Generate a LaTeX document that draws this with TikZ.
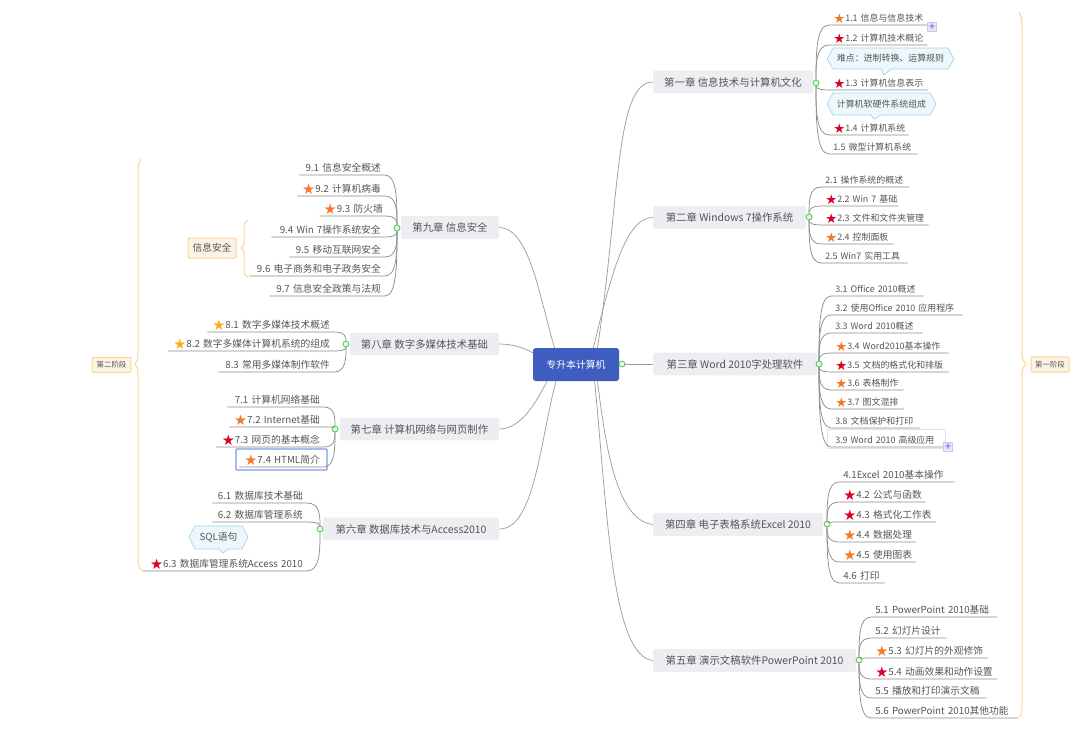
\documentclass[tikz,border=0pt]{standalone}
\usepackage{fontspec}
\setmainfont{Noto Sans CJK SC}
\newfontfamily\symfont[Scale=1.5]{DejaVu Sans}
\usepackage{xcolor}
\usepackage{tikz}
\usetikzlibrary{calc}
\definecolor{mapblue}{RGB}{63,93,190}
\definecolor{mapgray}{RGB}{237,237,242}
\definecolor{maptext}{RGB}{85,85,85}
\definecolor{mapline}{RGB}{140,140,140}
\definecolor{mapred}{RGB}{218,0,40}
\definecolor{maporange}{RGB}{245,120,40}
\definecolor{mapyellow}{RGB}{250,175,25}
\definecolor{mapcream}{RGB}{253,243,228}
\definecolor{mapbrace}{RGB}{249,214,145}
\definecolor{calloutfill}{RGB}{238,247,251}
\definecolor{calloutline}{RGB}{160,212,228}
\definecolor{selblue}{RGB}{125,150,230}
\definecolor{sellight}{RGB}{215,228,245}
\newcommand{\rs}{\raisebox{-.2em}{\color{mapred}\symfont ★}}
\newcommand{\os}{\raisebox{-.2em}{\color{maporange}\symfont ★}}
\newcommand{\ys}{\raisebox{-.2em}{\color{mapyellow}\symfont ★}}
\tikzset{
    chapter/.style={fill=mapgray, rounded corners=1.5pt, text=maptext, font=\fontsize{7.8}{9}\selectfont, minimum height=17pt, inner sep=0pt},
    hub/.style={circle, draw=green!45!gray, fill=green!15, line width=.5pt, minimum size=4.5pt, inner sep=0pt},
    leaf/.style={text=maptext, inner xsep=3pt, inner ysep=1.1pt, text height=.85em, text depth=.15em},
    leafs/.style={leaf, font=\fontsize{6.7}{8}\selectfont, align=left},
    leafm/.style={leaf, font=\fontsize{7.3}{9}\selectfont, align=left},
    leafl/.style={leaf, font=\fontsize{7.3}{9}\selectfont, align=right},
    leafline/.style={draw=mapline, line width=.55pt},
    rootline/.style={draw=mapline!85, line width=.55pt},
    callout/.style={draw=calloutline, fill=calloutfill, line width=.5pt},
    calltext/.style={text=maptext, inner sep=0pt},
    bracket/.style={draw=mapbrace, line width=.75pt},
    stage/.style={draw=mapbrace, fill=mapcream, rounded corners=1pt, text=maptext, line width=.75pt, inner sep=0pt},
    plusbox/.style={draw=gray!40, fill=blue!10, text=blue!70, font=\fontsize{8}{8}\selectfont, minimum size=7pt, inner sep=0pt}
}
\begin{document}
\begin{tikzpicture}[x=0.75pt, y=-0.75pt]
    \useasboundingbox (0,0) rectangle (1080,751);

    % Root and chapters
    \node[fill=mapblue, rounded corners=2pt, text=white, minimum width=64.5pt, minimum height=24.75pt, inner sep=0pt, font=\fontsize{7.4}{9}\selectfont] (root) at (576,364.5) {专升本计算机};
    \node[hub] (hub0) at (622,364) {};
    \node[chapter, minimum width=120pt] (ch1) at (733,82) {第一章 信息技术与计算机文化};
    \node[chapter, minimum width=114.75pt] (ch2) at (729.5,217.5) {第二章 Windows 7操作系统};
    \node[chapter, minimum width=123pt] (ch3) at (735,364) {第三章 Word 2010字处理软件};
    \node[chapter, minimum width=127.5pt] (ch4) at (738,524.5) {第四章 电子表格系统Excel 2010};
    \node[chapter, minimum width=152.25pt] (ch5) at (754.5,660.5) {第五章 演示文稿软件PowerPoint 2010};
    \node[chapter, minimum width=132pt] (ch6) at (411,529) {第六章 数据库技术与Access2010};
    \node[chapter, minimum width=119.25pt] (ch7) at (419.5,429) {第七章 计算机网络与网页制作};
    \node[chapter, minimum width=111.75pt] (ch8) at (424.5,344) {第八章 数字多媒体技术基础};
    \node[chapter, minimum width=73.5pt] (ch9) at (450,227.5) {第九章 信息安全};

    \node[hub] (hub1) at (816,83) {};
    \node[hub] (hub2) at (809,217) {};
    \node[hub] (hub3) at (819,364) {};
    \node[hub] (hub4) at (827,524) {};
    \node[hub] (hub5) at (859,660) {};
    \node[hub] (hub6) at (320,529) {};
    \node[hub] (hub7) at (335,429) {};
    \node[hub] (hub8) at (346,344) {};
    \node[hub] (hub9) at (397,228) {};

    % Root links
    \draw[rootline] (ch1.west) .. controls (615,82) and (620,200) .. (root.38);
    \draw[rootline] (ch2.west) .. controls (625,217) and (610,280) .. (root.44);
    \draw[rootline] (hub0) -- (ch3.west);
    \draw[rootline] (ch4.west) .. controls (615,520) and (605,440) .. (root.-38);
    \draw[rootline] (ch5.west) .. controls (612,655) and (608,520) .. (root.-42);
    \draw[rootline] (ch6.east) .. controls (535,529) and (540,440) .. (root.220);
    \draw[rootline] (ch7.east) .. controls (520,429) and (535,405) .. (root.210);
    \draw[rootline] (ch8.east) .. controls (512,344) and (525,348) .. (root.165);
    \draw[rootline] (ch9.east) .. controls (530,228) and (540,300) .. (root.142);

    % Highlighted leaves
    \draw[draw=sellight, line width=.6pt] (827,429) rectangle (945,448);
    \draw[draw=selblue, line width=.8pt, rounded corners=.5pt] (236,449) rectangle (327,470);

    % Chapter 1
    \foreach \lbl/\yp/\xe/\txt in {11/25/927/\os 1.1 信息与信息技术, 12/45/927/\rs 1.2 计算机技术概论, 13/90/927/\rs 1.3 计算机信息表示, 14/135/908/\rs 1.4 计算机系统, 15/154/917/1.5 微型计算机系统} {
        \pgfmathsetmacro\lw{(\xe-829)*0.75-6}
        \node[leafs, anchor=south west, text width=\lw pt] (l\lbl) at (829,\yp) {\mbox{\txt}};
        \draw[leafline] (hub1) .. controls ($(hub1)!.5!(hub1 |- l\lbl.south west)$) and (hub1 |- l\lbl.south west) .. (l\lbl.south west) -- (l\lbl.south east);
    }
    % Chapter 2
    \foreach \lbl/\yp/\xe/\txt in {21/187/909/2.1 操作系统的概述, 22/206/898/\rs 2.2 Win 7 基础, 23/225/928/\rs 2.3 文件和文件夹管理, 24/244/893/\os 2.4 控制面板, 25/263/907/2.5 Win7 实用工具} {
        \pgfmathsetmacro\lw{(\xe-821)*0.75-6}
        \node[leafs, anchor=south west, text width=\lw pt] (l\lbl) at (821,\yp) {\mbox{\txt}};
        \draw[leafline] (hub2) .. controls ($(hub2)!.5!(hub2 |- l\lbl.south west)$) and (hub2 |- l\lbl.south west) .. (l\lbl.south west) -- (l\lbl.south east);
    }
    % Chapter 3
    \foreach \lbl/\yp/\xe/\txt in {31/296/923/3.1 Office 2010概述, 32/315/962/3.2 使用Office 2010 应用程序, 33/333/922/3.3 Word 2010概述, 34/353/948/\os 3.4 Word2010基本操作, 35/372/948/\rs 3.5 文档的格式化和排版, 36/390/903/\os 3.6 表格制作, 37/409/903/\os 3.7 图文混排, 38/428/919/3.8 文档保护和打印, 39/447/945/3.9 Word 2010 高级应用} {
        \pgfmathsetmacro\lw{(\xe-831)*0.75-6}
        \node[leafs, anchor=south west, text width=\lw pt] (l\lbl) at (831,\yp) {\mbox{\txt}};
        \draw[leafline] (hub3) .. controls ($(hub3)!.5!(hub3 |- l\lbl.south west)$) and (hub3 |- l\lbl.south west) .. (l\lbl.south west) -- (l\lbl.south east);
    }
    % Chapter 4
    \foreach \lbl/\yp/\xe/\txt in {41/482/954/4.1Excel 2010基本操作, 42/502/925/\rs 4.2 公式与函数, 43/522/935/\rs 4.3 格式化工作表, 44/542/915/\os 4.4 数据处理, 45/562/915/\os 4.5 使用图表, 46/583/884/4.6 打印} {
        \pgfmathsetmacro\lw{(\xe-839)*0.75-6}
        \node[leafm, anchor=south west, text width=\lw pt] (l\lbl) at (839,\yp) {\mbox{\txt}};
        \draw[leafline] (hub4) .. controls ($(hub4)!.5!(hub4 |- l\lbl.south west)$) and (hub4 |- l\lbl.south west) .. (l\lbl.south west) -- (l\lbl.south east);
    }
    % Chapter 5
    \foreach \lbl/\yp/\xe/\txt in {51/617/997/5.1 PowerPoint 2010基础, 52/638/946/5.2 幻灯片设计, 53/658/987/\os 5.3 幻灯片的外观修饰, 54/679/997/\rs 5.4 动画效果和动作设置, 55/698/986/5.5 播放和打印演示文稿, 56/718/1018/5.6 PowerPoint 2010其他功能} {
        \pgfmathsetmacro\lw{(\xe-871)*0.75-6}
        \node[leafm, anchor=south west, text width=\lw pt] (l\lbl) at (871,\yp) {\mbox{\txt}};
        \draw[leafline] (hub5) .. controls ($(hub5)!.5!(hub5 |- l\lbl.south west)$) and (hub5 |- l\lbl.south west) .. (l\lbl.south west) -- (l\lbl.south east);
    }
    % Chapter 6
    \foreach \lbl/\yp/\xs/\txt in {61/503/213/6.1 数据库技术基础, 62/522/213/6.2 数据库管理系统, 63/571/143/\rs 6.3 数据库管理系统Access 2010} {
        \pgfmathsetmacro\lw{(307-\xs)*0.75-6}
        \node[leafl, anchor=south east, text width=\lw pt] (l\lbl) at (307,\yp) {\mbox{\txt}};
        \draw[leafline] (hub6) .. controls ($(hub6)!.5!(hub6 |- l\lbl.south east)$) and (hub6 |- l\lbl.south east) .. (l\lbl.south east) -- (l\lbl.south west);
    }
    % Chapter 7
    \foreach \lbl/\yp/\xs/\txt in {71/407/228/7.1 计算机网络基础, 72/427/230/\os 7.2 Internet基础, 73/447/217/\rs 7.3 网页的基本概念, 74/467/240/\os 7.4 HTML简介} {
        \pgfmathsetmacro\lw{(324-\xs)*0.75-6}
        \node[leafl, anchor=south east, text width=\lw pt] (l\lbl) at (324,\yp) {\mbox{\txt}};
        \draw[leafline] (hub7) .. controls ($(hub7)!.5!(hub7 |- l\lbl.south east)$) and (hub7 |- l\lbl.south east) .. (l\lbl.south east) -- (l\lbl.south west);
    }
    % Chapter 8
    \foreach \lbl/\yp/\xs/\txt in {81/332/208/\ys 8.1 数字多媒体技术概述, 82/351/169/\ys 8.2 数字多媒体计算机系统的组成, 83/372/219/8.3 常用多媒体制作软件} {
        \pgfmathsetmacro\lw{(334-\xs)*0.75-6}
        \node[leafl, anchor=south east, text width=\lw pt] (l\lbl) at (334,\yp) {\mbox{\txt}};
        \draw[leafline] (hub8) .. controls ($(hub8)!.5!(hub8 |- l\lbl.south east)$) and (hub8 |- l\lbl.south east) .. (l\lbl.south east) -- (l\lbl.south west);
    }
    % Chapter 9
    \foreach \lbl/\yp/\xs/\txt in {91/175/300/9.1 信息安全概述, 92/196/298/\os 9.2 计算机病毒, 93/216/320/\os 9.3 防火墙, 94/237/272/9.4 Win 7操作系统安全, 95/257/290/9.5 移动互联网安全, 96/276/250/9.6 电子商务和电子政务安全, 97/296/270/9.7 信息安全政策与法规} {
        \pgfmathsetmacro\lw{(385-\xs)*0.75-6}
        \node[leafl, anchor=south east, text width=\lw pt] (l\lbl) at (385,\yp) {\mbox{\txt}};
        \draw[leafline] (hub9) .. controls ($(hub9)!.5!(hub9 |- l\lbl.south east)$) and (hub9 |- l\lbl.south east) .. (l\lbl.south east) -- (l\lbl.south west);
    }

    % Callouts
    \draw[callout] (827,59) -- (833,48) -- (948,48) -- (954,59) -- (948,69) -- (891,69) -- (884,75) -- (881,69) -- (833,69) -- cycle;
    \node[calltext, font=\fontsize{6.7}{8}\selectfont] (note1) at (890.5,58.5) {难点：进制转换、运算规则};
    \draw[callout] (827,104) -- (833,93) -- (930,93) -- (936,104) -- (930,115) -- (881,115) -- (874,119) -- (871,115) -- (833,115) -- cycle;
    \node[calltext, font=\fontsize{6.7}{8}\selectfont] (note2) at (881.5,104) {计算机软硬件系统组成};
    \draw[callout] (189,537) -- (195,526) -- (242,526) -- (248,537) -- (242,549) -- (228,549) -- (223,553) -- (219,549) -- (195,549) -- cycle;
    \node[calltext, font=\fontsize{7.3}{9}\selectfont] (note3) at (218.5,537.5) {SQL语句};

    % Expand markers
    \node[plusbox] (plus1) at (932,27) {+};
    \node[plusbox] (plus2) at (948,447) {+};

    % Stage brackets
    \draw[bracket] (1019,12) .. controls (1022,16) and (1022,22) .. (1022,30) -- (1022,352) .. controls (1022,360) and (1024,362) .. (1026,364) .. controls (1024,366) and (1022,368) .. (1022,376) -- (1022,700) .. controls (1022,710) and (1022,714) .. (1020,717);
    \node[stage, minimum width=28.5pt, minimum height=11.5pt, font=\fontsize{5.6}{7}\selectfont] (stage1) at (1050,364.5) {第一阶段};
    \draw[bracket] (141,159) .. controls (138,163) and (138,166) .. (138,175) -- (138,352) .. controls (138,360) and (137,362) .. (135,364) .. controls (137,366) and (138,368) .. (138,376) -- (138,555) .. controls (138,566) and (139,569) .. (143,571);
    \node[stage, minimum width=29pt, minimum height=11.5pt, font=\fontsize{5.6}{7}\selectfont] (stage2) at (111.5,365) {第二阶段};
    \draw[bracket] (248,220) .. controls (245,221) and (244,223) .. (244,228) -- (244,242) .. controls (244,246) and (243,247) .. (241,248) .. controls (243,249) and (244,250) .. (244,254) -- (244,270) .. controls (244,275) and (245,276) .. (248,277);
    \node[stage, minimum width=36pt, minimum height=15pt, font=\fontsize{7.3}{9}\selectfont] (note4) at (212,248) {信息安全};
\end{tikzpicture}
\end{document}
